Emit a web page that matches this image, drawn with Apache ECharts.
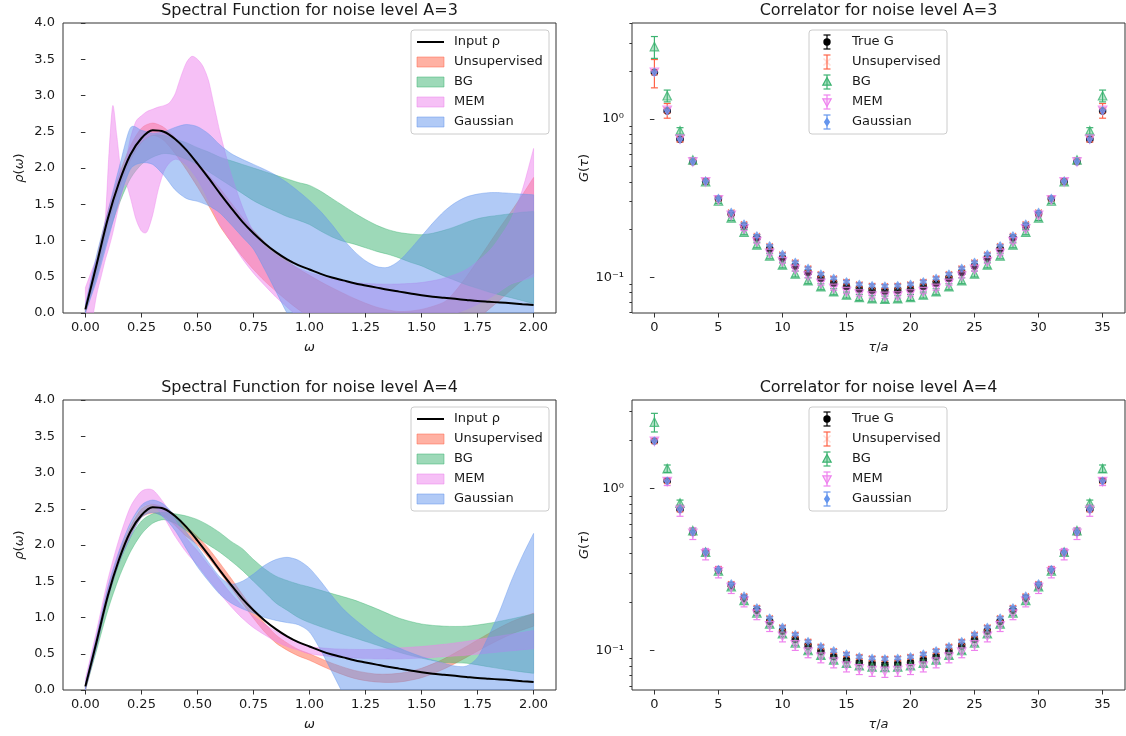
<!DOCTYPE html>
<html>
<head>
<meta charset="utf-8">
<script src="https://cdn.jsdelivr.net/npm/echarts@6/dist/echarts.min.js"></script>
<style>
  html, body { margin: 0; padding: 0; background: #ffffff; }
  #chart { width: 1126px; height: 736px; }
</style>
</head>
<body>
<div id="chart"></div>
<script>
// ---------------- data ----------------
const OMEGA_TICKS = [0, 0.25, 0.5, 0.75, 1.0, 1.25, 1.5, 1.75, 2.0];
const TAU_TICKS = [0, 5, 10, 15, 20, 25, 30, 35];
const LOG_MAJOR = [0.1, 1];
const LOG_MINOR = [0.06, 0.07, 0.08, 0.09, 0.2, 0.3, 0.4, 0.5, 0.6, 0.7, 0.8, 0.9, 2, 3, 4];

// input spectral function rho(omega)
const RHO_OMEGA = [0, 0.05, 0.1, 0.15, 0.2, 0.25, 0.3, 0.35, 0.4, 0.45, 0.5, 0.55, 0.6, 0.65, 0.7, 0.75, 0.8, 0.85, 0.9, 0.95,
  1.0, 1.05, 1.1, 1.15, 1.2, 1.25, 1.3, 1.35, 1.4, 1.45, 1.5, 1.55, 1.6, 1.65, 1.7, 1.75, 1.8, 1.85, 1.9, 1.95, 2.0];
const INPUT_RHO = [0.05, 0.67, 1.30, 1.80, 2.18, 2.41, 2.52, 2.50, 2.40, 2.25, 2.06, 1.86, 1.65, 1.45, 1.26, 1.10, 0.96, 0.84, 0.74, 0.66,
  0.60, 0.54, 0.49, 0.45, 0.41, 0.38, 0.35, 0.32, 0.295, 0.27, 0.245, 0.225, 0.21, 0.195, 0.18, 0.165, 0.155, 0.145, 0.135, 0.122, 0.11];

// reconstructed bands [omega, lower, upper], noise level A=3
const A3_UNSUP = [[0,0,0.1],[0.05,0.55,0.75],[0.1,1.2,1.4],[0.15,1.7,1.9],[0.2,2.1,2.3],[0.25,2.35,2.55],[0.3,2.45,2.62],[0.35,2.38,2.56],
  [0.4,2.2,2.42],[0.45,1.98,2.25],[0.5,1.74,2.08],[0.55,1.48,1.9],[0.6,1.2,1.72],[0.65,0.98,1.52],[0.7,0.78,1.32],[0.75,0.6,1.14],
  [0.8,0.44,0.98],[0.85,0.3,0.84],[0.9,0.17,0.72],[0.95,0.05,0.61],[1.0,-0.05,0.52],[1.05,-0.15,0.43],[1.1,-0.25,0.35],[1.2,-0.4,0.2],
  [1.3,-0.5,0.08],[1.4,-0.55,0.02],[1.5,-0.5,0.05],[1.6,-0.4,0.15],[1.65,-0.3,0.3],[1.7,-0.2,0.5],[1.75,-0.08,0.72],[1.8,0.05,0.95],
  [1.85,0.18,1.18],[1.9,0.32,1.4],[1.95,0.45,1.63],[2.0,0.55,1.87]];
const A3_BG = [[0,0,0.1],[0.05,0.5,0.7],[0.1,1.05,1.3],[0.15,1.5,1.8],[0.2,1.85,2.15],[0.25,2.05,2.35],[0.3,2.15,2.45],[0.35,2.2,2.45],
  [0.4,2.18,2.4],[0.45,2.12,2.35],[0.5,2.05,2.28],[0.55,1.95,2.22],[0.6,1.85,2.15],[0.65,1.75,2.1],[0.7,1.65,2.05],[0.75,1.55,2.0],
  [0.8,1.47,1.95],[0.85,1.4,1.9],[0.9,1.33,1.85],[0.95,1.28,1.8],[1.0,1.22,1.76],[1.05,1.13,1.68],[1.1,1.05,1.58],[1.15,0.99,1.48],
  [1.2,0.95,1.38],[1.25,0.9,1.29],[1.3,0.85,1.21],[1.35,0.81,1.15],[1.4,0.76,1.11],[1.45,0.7,1.09],[1.5,0.65,1.08],[1.55,0.58,1.1],
  [1.6,0.51,1.14],[1.65,0.45,1.19],[1.7,0.39,1.25],[1.75,0.34,1.3],[1.8,0.29,1.33],[1.85,0.25,1.35],[1.9,0.21,1.37],[1.95,0.17,1.39],[2.0,0.13,1.4]];
const A3_MEM = [[0,-0.5,0.35],[0.03,-0.1,0.6],[0.05,0.25,0.75],[0.07,0.5,0.88],[0.09,0.75,1.35],[0.105,0.9,2.2],[0.122,1.1,2.86],
  [0.14,1.35,2.45],[0.16,1.62,1.95],[0.18,1.78,2.1],[0.2,1.6,2.4],[0.225,1.3,2.64],[0.25,1.13,2.72],[0.275,1.12,2.78],[0.3,1.35,2.81],
  [0.325,1.7,2.84],[0.35,1.95,2.86],[0.375,2.07,2.9],[0.4,2.12,3.02],[0.425,2.1,3.25],[0.45,2.04,3.45],[0.475,1.95,3.54],[0.5,1.84,3.5],
  [0.525,1.7,3.4],[0.55,1.54,3.2],[0.575,1.38,2.85],[0.6,1.22,2.5],[0.625,1.1,2.2],[0.65,0.98,1.92],[0.7,0.75,1.47],[0.75,0.55,1.12],
  [0.8,0.38,0.92],[0.85,0.22,0.8],[0.9,0.08,0.7],[0.95,-0.05,0.62],[1.0,-0.15,0.56],[1.1,-0.25,0.47],[1.2,-0.25,0.42],[1.3,-0.2,0.4],
  [1.4,-0.15,0.4],[1.5,-0.1,0.42],[1.6,-0.05,0.48],[1.7,0.05,0.6],[1.8,0.2,0.85],[1.85,0.3,1.05],[1.9,0.4,1.3],[1.95,0.45,1.7],[2.0,0.5,2.27]];
const A3_GAUSS = [[0,0,0.12],[0.05,0.45,0.8],[0.1,1.0,1.4],[0.15,1.55,2.0],[0.2,1.98,2.55],[0.25,2.07,2.52],[0.3,2.05,2.48],[0.35,1.9,2.5],
  [0.4,1.7,2.56],[0.45,1.58,2.6],[0.5,1.54,2.57],[0.55,1.48,2.47],[0.6,1.38,2.32],[0.65,1.22,2.2],[0.7,1.05,2.12],[0.75,0.88,2.05],
  [0.8,0.6,1.98],[0.85,0.3,1.9],[0.9,0,1.8],[0.95,-0.2,1.68],[1.0,-0.35,1.55],[1.05,-0.45,1.4],[1.1,-0.5,1.22],[1.15,-0.55,1.02],
  [1.2,-0.6,0.85],[1.25,-0.6,0.72],[1.3,-0.6,0.64],[1.35,-0.6,0.63],[1.4,-0.6,0.72],[1.45,-0.6,0.88],[1.5,-0.55,1.06],[1.55,-0.5,1.24],
  [1.6,-0.45,1.4],[1.65,-0.4,1.52],[1.7,-0.35,1.6],[1.75,-0.3,1.64],[1.8,-0.25,1.66],[1.85,-0.2,1.66],[1.9,-0.15,1.65],[1.95,-0.1,1.64],[2.0,-0.05,1.63]];

// reconstructed bands [omega, lower, upper], noise level A=4
const A4_UNSUP = [[0,0,0.08],[0.05,0.6,0.72],[0.1,1.25,1.38],[0.15,1.75,1.88],[0.2,2.12,2.25],[0.25,2.38,2.5],[0.3,2.44,2.56],[0.35,2.4,2.52],
  [0.4,2.27,2.41],[0.45,2.12,2.26],[0.5,2.0,2.12],[0.55,1.82,1.95],[0.6,1.62,1.75],[0.65,1.41,1.54],[0.7,1.2,1.32],[0.75,0.99,1.11],
  [0.8,0.8,0.92],[0.85,0.65,0.76],[0.9,0.55,0.65],[0.95,0.47,0.56],[1.0,0.41,0.5],[1.1,0.27,0.37],[1.2,0.16,0.27],[1.3,0.11,0.22],
  [1.4,0.11,0.23],[1.5,0.17,0.3],[1.6,0.29,0.43],[1.7,0.45,0.6],[1.8,0.62,0.78],[1.9,0.77,0.94],[2.0,0.88,1.06]];
const A4_BG = [[0,0,0.08],[0.05,0.55,0.68],[0.1,1.1,1.28],[0.15,1.55,1.75],[0.2,1.9,2.1],[0.25,2.15,2.33],[0.3,2.3,2.43],[0.35,2.35,2.45],
  [0.4,2.3,2.43],[0.45,2.2,2.4],[0.5,2.1,2.35],[0.55,2.0,2.27],[0.6,1.9,2.17],[0.65,1.78,2.05],[0.7,1.65,1.95],[0.75,1.5,1.8],
  [0.8,1.35,1.67],[0.85,1.2,1.57],[0.9,1.1,1.51],[0.95,1.0,1.46],[1.0,0.93,1.42],[1.1,0.82,1.33],[1.2,0.72,1.24],[1.3,0.62,1.12],
  [1.4,0.52,0.99],[1.5,0.44,0.91],[1.6,0.38,0.88],[1.7,0.37,0.88],[1.8,0.32,0.92],[1.9,0.27,0.98],[2.0,0.23,1.05]];
const A4_MEM = [[0,0,0.15],[0.05,0.62,0.82],[0.1,1.32,1.52],[0.15,1.88,2.08],[0.2,2.3,2.52],[0.25,2.52,2.74],[0.3,2.56,2.76],[0.35,2.38,2.58],
  [0.4,2.12,2.34],[0.45,1.9,2.1],[0.5,1.72,1.92],[0.55,1.52,1.72],[0.6,1.33,1.52],[0.65,1.15,1.33],[0.7,0.99,1.16],[0.75,0.86,1.02],
  [0.8,0.76,0.91],[0.85,0.67,0.81],[0.9,0.6,0.73],[0.95,0.55,0.66],[1.0,0.5,0.6],[1.1,0.46,0.57],[1.2,0.44,0.56],[1.3,0.43,0.56],
  [1.4,0.43,0.58],[1.5,0.44,0.6],[1.6,0.46,0.63],[1.7,0.48,0.67],[1.8,0.51,0.72],[1.9,0.54,0.77],[2.0,0.57,0.82]];
const A4_GAUSS = [[0,0,0.1],[0.05,0.6,0.75],[0.1,1.25,1.42],[0.15,1.75,1.92],[0.2,2.1,2.3],[0.25,2.38,2.55],[0.3,2.45,2.62],[0.35,2.38,2.56],
  [0.4,2.2,2.4],[0.45,1.95,2.18],[0.5,1.7,1.98],[0.55,1.5,1.76],[0.6,1.32,1.56],[0.65,1.2,1.46],[0.7,1.12,1.5],[0.75,1.06,1.6],
  [0.8,1.0,1.72],[0.85,0.96,1.8],[0.9,0.93,1.83],[0.95,0.9,1.79],[1.0,0.8,1.68],[1.05,0.55,1.5],[1.1,0.25,1.3],[1.15,-0.05,1.12],
  [1.2,-0.3,0.98],[1.3,-0.5,0.74],[1.4,-0.6,0.58],[1.5,-0.6,0.46],[1.6,-0.55,0.37],[1.65,-0.5,0.33],[1.7,-0.45,0.33],[1.75,-0.4,0.45],
  [1.8,-0.35,0.75],[1.85,-0.3,1.1],[1.9,-0.25,1.5],[1.95,-0.2,1.85],[2.0,-0.15,2.16]];

// correlators G(tau), tau = 0..35
const TAU = [0,1,2,3,4,5,6,7,8,9,10,11,12,13,14,15,16,17,18,19,20,21,22,23,24,25,26,27,28,29,30,31,32,33,34,35];
const TRUE_G = [1.97,1.12,0.745,0.537,0.402,0.313,0.252,0.210,0.177,0.151,0.132,0.1175,0.107,0.0985,0.0919,0.0876,0.0843,0.0827,0.0820,
  0.0827,0.0843,0.0876,0.0919,0.0985,0.107,0.1175,0.132,0.151,0.177,0.210,0.252,0.313,0.402,0.537,0.745,1.12];
const TRUE_G_ERR = [0.03,0.015,0.008,0.006,0.005,0.004,0.0035,0.003,0.0028,0.0026,0.0025,0.0024,0.0023,0.0022,0.0022,0.0021,0.0021,0.0021,0.0021,
  0.0021,0.0021,0.0021,0.0022,0.0022,0.0023,0.0024,0.0025,0.0026,0.0028,0.003,0.0035,0.004,0.005,0.006,0.008,0.015];

const A3_G_UNSUP = [1.97,1.13,0.745,0.537,0.403,0.314,0.256,0.216,0.182,0.157,0.139,0.1238,0.1135,0.1045,0.0981,0.0934,0.0899,0.0882,0.0877,
  0.0882,0.0899,0.0934,0.0981,0.1045,0.1135,0.1238,0.139,0.157,0.182,0.216,0.256,0.314,0.403,0.537,0.745,1.13];
const A3_G_UNSUP_ERR = [0.40,0.12,0.03,0.012,0.008,0.006,0.005,0.004,0.0036,0.0032,0.003,0.0028,0.0026,0.0025,0.0024,0.0023,0.0023,0.0023,0.0023,
  0.0023,0.0023,0.0023,0.0024,0.0025,0.0026,0.0028,0.003,0.0032,0.0036,0.004,0.005,0.006,0.008,0.012,0.03,0.12];
const A3_G_BG = [2.86,1.40,0.84,0.55,0.402,0.303,0.237,0.193,0.160,0.1363,0.1196,0.1049,0.0952,0.0872,0.0811,0.0773,0.0747,0.0733,0.0728,
  0.0733,0.0747,0.0773,0.0811,0.0872,0.0952,0.1049,0.1196,0.1363,0.160,0.193,0.237,0.303,0.402,0.55,0.84,1.40];
const A3_G_BG_ERR = [0.45,0.12,0.04,0.02,0.014,0.011,0.009,0.0075,0.0065,0.0056,0.005,0.0045,0.0041,0.0038,0.0036,0.0034,0.0033,0.0033,0.0033,
  0.0033,0.0033,0.0034,0.0036,0.0038,0.0041,0.0045,0.005,0.0056,0.0065,0.0075,0.009,0.011,0.014,0.02,0.04,0.12];
const A3_G_MEM = [1.97,1.13,0.745,0.535,0.400,0.308,0.246,0.202,0.168,0.1417,0.1255,0.1123,0.1019,0.0916,0.0852,0.0811,0.0784,0.0762,0.0757,
  0.0762,0.0784,0.0811,0.0852,0.0916,0.1019,0.1123,0.1255,0.1417,0.168,0.202,0.246,0.308,0.400,0.535,0.745,1.13];
const A3_G_MEM_ERR = [0.04,0.025,0.016,0.012,0.009,0.007,0.0058,0.0048,0.0041,0.0036,0.0032,0.0029,0.0027,0.0025,0.0024,0.0023,0.0023,0.0022,0.0022,
  0.0022,0.0023,0.0023,0.0024,0.0025,0.0027,0.0029,0.0032,0.0036,0.0041,0.0048,0.0058,0.007,0.009,0.012,0.016,0.025];
const A3_G_GAUSS = [1.97,1.13,0.745,0.538,0.404,0.315,0.257,0.217,0.183,0.158,0.1397,0.1243,0.114,0.1049,0.0985,0.0938,0.0903,0.0886,0.0880,
  0.0886,0.0903,0.0938,0.0985,0.1049,0.114,0.1243,0.1397,0.158,0.183,0.217,0.257,0.315,0.404,0.538,0.745,1.13];
const A3_G_GAUSS_ERR = [0.03,0.018,0.011,0.008,0.006,0.005,0.004,0.0034,0.003,0.0027,0.0025,0.0023,0.0022,0.0021,0.002,0.002,0.002,0.002,0.002,
  0.002,0.002,0.002,0.002,0.0021,0.0022,0.0023,0.0025,0.0027,0.003,0.0034,0.004,0.005,0.006,0.008,0.011,0.018];

const A4_G_UNSUP = [1.97,1.115,0.745,0.538,0.403,0.316,0.257,0.216,0.183,0.158,0.1388,0.1250,0.1132,0.1054,0.0990,0.0946,0.0911,0.0893,0.0886,
  0.0893,0.0911,0.0946,0.0990,0.1054,0.1132,0.1250,0.1388,0.158,0.183,0.216,0.257,0.316,0.403,0.538,0.745,1.115];
const A4_G_UNSUP_ERR = [0.03,0.025,0.018,0.013,0.01,0.008,0.0065,0.0055,0.0047,0.0041,0.0036,0.0032,0.0029,0.0027,0.0025,0.0024,0.0023,0.0023,0.0023,
  0.0023,0.0023,0.0024,0.0025,0.0027,0.0029,0.0032,0.0036,0.0041,0.0047,0.0055,0.0065,0.008,0.01,0.013,0.018,0.025];
const A4_G_BG = [2.58,1.33,0.815,0.55,0.405,0.31,0.248,0.204,0.171,0.146,0.127,0.1116,0.100,0.0935,0.0875,0.0835,0.0806,0.0792,0.0785,
  0.0792,0.0806,0.0835,0.0875,0.0935,0.100,0.1116,0.127,0.146,0.171,0.204,0.248,0.31,0.405,0.55,0.815,1.33];
const A4_G_BG_ERR = [0.34,0.07,0.035,0.02,0.014,0.011,0.009,0.0075,0.0065,0.0056,0.005,0.0045,0.0041,0.0038,0.0036,0.0034,0.0033,0.0033,0.0033,
  0.0033,0.0033,0.0034,0.0036,0.0038,0.0041,0.0045,0.005,0.0056,0.0065,0.0075,0.009,0.011,0.014,0.02,0.035,0.07];
const A4_G_MEM = [1.96,1.105,0.735,0.53,0.395,0.306,0.245,0.202,0.168,0.142,0.1225,0.1084,0.0977,0.0909,0.0847,0.0800,0.0770,0.0752,0.0742,
  0.0752,0.0770,0.0800,0.0847,0.0909,0.0977,0.1084,0.1225,0.142,0.168,0.202,0.245,0.306,0.395,0.53,0.735,1.105];
const A4_G_MEM_ERR = [0.03,0.06,0.06,0.045,0.032,0.025,0.02,0.016,0.013,0.011,0.0095,0.0083,0.0075,0.007,0.0066,0.0063,0.006,0.006,0.006,
  0.006,0.006,0.0063,0.0066,0.007,0.0075,0.0083,0.0095,0.011,0.013,0.016,0.02,0.025,0.032,0.045,0.06,0.06];
const A4_G_GAUSS = [1.97,1.115,0.745,0.539,0.404,0.317,0.258,0.217,0.184,0.159,0.1394,0.1256,0.1137,0.1059,0.0995,0.0950,0.0915,0.0897,0.0890,
  0.0897,0.0915,0.0950,0.0995,0.1059,0.1137,0.1256,0.1394,0.159,0.184,0.217,0.258,0.317,0.404,0.539,0.745,1.115];
const A4_G_GAUSS_ERR = A3_G_GAUSS_ERR;

// ---------------- styling ----------------
const FONT = 'DejaVu Sans';
const TXT = '#1a1a1a';
const AX = '#333333';
const C_UNSUP = '#ff6347', C_BG = '#3cb371', C_MEM = '#ee82ee', C_GAUSS = '#6495ed';

function rgba(hex, a) {
  const n = parseInt(hex.slice(1), 16);
  return 'rgba(' + (n >> 16 & 255) + ',' + (n >> 8 & 255) + ',' + (n & 255) + ',' + a + ')';
}

const GRID_BOX = [
  { left: 63, top: 23, width: 493, height: 290 },
  { left: 632, top: 23, width: 493, height: 290 },
  { left: 63, top: 400, width: 493, height: 290 },
  { left: 632, top: 400, width: 493, height: 290 }
];

const tick = (extra) => Object.assign({ show: true, length: 4.5, inside: false, lineStyle: { color: AX, width: 1 } }, extra || {});
const lbl = (extra) => Object.assign({ fontFamily: FONT, fontSize: 13, color: TXT, margin: 8 }, extra || {});
const nameStyle = { fontFamily: FONT, fontSize: 13, color: TXT,
  rich: { i: { fontFamily: FONT, fontSize: 13, fontStyle: 'italic', color: TXT } } };

function omegaAxis(gi) {
  return { type: 'value', gridIndex: gi, min: -0.1, max: 2.1,
    axisLine: { show: false }, splitLine: { show: false },
    axisTick: tick({ customValues: OMEGA_TICKS }),
    axisLabel: lbl({ customValues: OMEGA_TICKS, formatter: v => v.toFixed(2) }),
    name: '{i|ω}', nameLocation: 'middle', nameGap: 28, nameTextStyle: nameStyle };
}
function tauAxis(gi) {
  return { type: 'value', gridIndex: gi, min: -1.75, max: 36.75,
    axisLine: { show: false }, splitLine: { show: false },
    axisTick: tick({ customValues: TAU_TICKS }),
    axisLabel: lbl({ customValues: TAU_TICKS, formatter: v => String(Math.round(v)) }),
    name: '{i|τ}/{i|a}', nameLocation: 'middle', nameGap: 28, nameTextStyle: nameStyle };
}
function rhoAxis(gi) {
  return { type: 'value', gridIndex: gi, min: 0, max: 4, interval: 0.5,
    axisLine: { show: false }, splitLine: { show: false },
    axisTick: tick(), axisLabel: lbl({ formatter: v => v.toFixed(1) }),
    name: '{i|ρ}({i|ω})', nameLocation: 'middle', nameGap: 37, nameTextStyle: nameStyle };
}
function corrAxes(gi, lo, hi) {
  return [
    { type: 'log', logBase: 10, gridIndex: gi, min: lo, max: hi,
      axisLine: { show: false }, splitLine: { show: false },
      axisTick: tick({ customValues: LOG_MAJOR }),
      axisLabel: lbl({ customValues: LOG_MAJOR, formatter: v => (v > 0.5 ? '10⁰' : '10⁻¹') }),
      name: '{i|G}({i|τ})', nameLocation: 'middle', nameGap: 35, nameTextStyle: nameStyle },
    { type: 'log', logBase: 10, gridIndex: gi, min: lo, max: hi, position: 'left',
      axisLine: { show: false }, splitLine: { show: false }, axisLabel: { show: false },
      axisTick: tick({ length: 2.6, customValues: LOG_MINOR }) }
  ];
}

// ---------------- series builders ----------------
// Smooth path through pixel points (Catmull-Rom converted to cubic Bezier segments).
function curveThrough(pts, startCmd) {
  let d = startCmd + pts[0][0].toFixed(2) + ',' + pts[0][1].toFixed(2);
  const t = 0.8;
  for (let i = 0; i < pts.length - 1; i++) {
    const p0 = pts[Math.max(i - 1, 0)], p1 = pts[i], p2 = pts[i + 1], p3 = pts[Math.min(i + 2, pts.length - 1)];
    const c1 = [p1[0] + (p2[0] - p0[0]) * t / 6, p1[1] + (p2[1] - p0[1]) * t / 6];
    const c2 = [p2[0] - (p3[0] - p1[0]) * t / 6, p2[1] - (p3[1] - p1[1]) * t / 6];
    d += ' C' + c1[0].toFixed(2) + ',' + c1[1].toFixed(2) + ' ' + c2[0].toFixed(2) + ',' + c2[1].toFixed(2) + ' ' + p2[0].toFixed(2) + ',' + p2[1].toFixed(2);
  }
  return d;
}
// Shaded band between lower and upper bounds, drawn as one filled region.
function band(rows, color, xi, yi) {
  return { type: 'custom', xAxisIndex: xi, yAxisIndex: yi, clip: true, silent: true,
    encode: { x: 0, y: [1, 2] }, data: rows,
    renderItem: (params, api) => {
      if (params.dataIndex !== 0) return null;
      const up = rows.map(r => api.coord([r[0], r[2]]));
      const lo = rows.map(r => api.coord([r[0], r[1]])).reverse();
      const d = curveThrough(up, 'M') + ' ' + curveThrough(lo, 'L') + ' Z';
      return { type: 'path', shape: { pathData: d },
        style: { fill: color, stroke: color, lineWidth: 0.8, opacity: 0.5 } };
    } };
}
function inputLine(xi, yi) {
  return { type: 'line', xAxisIndex: xi, yAxisIndex: yi, smooth: 0.3, symbol: 'none', silent: true,
    lineStyle: { color: '#000', width: 2 }, z: 5, data: RHO_OMEGA.map((w, i) => [w, INPUT_RHO[i]]) };
}
function errorBars(vals, errs, color, xi, yi) {
  return { type: 'custom', xAxisIndex: xi, yAxisIndex: yi, silent: true, clip: true,
    encode: { x: 0, y: [1, 2] },
    data: vals.map((v, i) => [TAU[i], v - errs[i], v + errs[i]]),
    renderItem: (params, api) => {
      const x = api.value(0);
      const a = api.coord([x, api.value(1)]);
      const b = api.coord([x, api.value(2)]);
      const cw = 3.5, st = { stroke: color, lineWidth: 1.2 };
      return { type: 'group', children: [
        { type: 'line', shape: { x1: a[0], y1: a[1], x2: b[0], y2: b[1] }, style: st },
        { type: 'line', shape: { x1: a[0] - cw, y1: a[1], x2: a[0] + cw, y2: a[1] }, style: st },
        { type: 'line', shape: { x1: b[0] - cw, y1: b[1], x2: b[0] + cw, y2: b[1] }, style: st }
      ] };
    } };
}
const X_PATH = 'path://M0,1 L1,0 L5,4 L9,0 L10,1 L6,5 L10,9 L9,10 L5,6 L1,10 L0,9 L4,5 Z';
function markers(vals, kind, xi, yi) {
  const s = { type: 'scatter', xAxisIndex: xi, yAxisIndex: yi, silent: true,
    data: vals.map((v, i) => [TAU[i], v]) };
  if (kind === 'true') { s.symbol = 'circle'; s.symbolSize = 7.5; s.itemStyle = { color: '#000' }; }
  if (kind === 'unsup') { s.symbol = X_PATH; s.symbolSize = 7; s.itemStyle = { color: C_UNSUP, opacity: 0.9 }; }
  if (kind === 'bg') { s.symbol = 'triangle'; s.symbolSize = 8.5; s.itemStyle = { color: rgba(C_BG, 0.45), borderColor: C_BG, borderWidth: 1.2 }; }
  if (kind === 'mem') { s.symbol = 'triangle'; s.symbolRotate = 180; s.symbolSize = 8.5; s.itemStyle = { color: rgba(C_MEM, 0.3), borderColor: C_MEM, borderWidth: 1.2 }; }
  if (kind === 'gauss') { s.symbol = 'diamond'; s.symbolSize = [6.5, 9.5]; s.itemStyle = { color: C_GAUSS }; }
  return s;
}
function corrSet(sets, xi, yi) {
  const out = [];
  sets.forEach(s => { out.push(errorBars(s[0], s[1], s[2], xi, yi)); out.push(markers(s[0], s[3], xi, yi)); });
  return out;
}

// ---------------- titles & legends ----------------
function title(text, cx, cy) {
  return { type: 'text', x: cx, y: cy, z: 100,
    style: { text: text, fontFamily: FONT, fontSize: 16, fill: TXT, align: 'center', verticalAlign: 'middle',
      textAlign: 'center', textVerticalAlign: 'middle' } };
}
function legendText(text, x, y) {
  return { type: 'text', x: x, y: y, z: 101,
    style: { text: text, fontFamily: FONT, fontSize: 13, fill: TXT, align: 'left', verticalAlign: 'middle',
      textAlign: 'left', textVerticalAlign: 'middle' } };
}
function legendBox(x0, y0) {
  return { type: 'rect', z: 100, shape: { x: x0, y: y0, width: 138, height: 104, r: 3 },
    style: { fill: 'rgba(255,255,255,0.8)', stroke: '#cccccc', lineWidth: 1 } };
}
function spectralLegend(x0, y0) {
  const els = [legendBox(x0, y0)];
  const rowY = i => y0 + 12 + 20 * i;
  els.push({ type: 'line', z: 101, shape: { x1: x0 + 6, y1: rowY(0), x2: x0 + 33, y2: rowY(0) }, style: { stroke: '#000', lineWidth: 2 } });
  els.push(legendText('Input ρ', x0 + 43, rowY(0)));
  [['Unsupervised', C_UNSUP], ['BG', C_BG], ['MEM', C_MEM], ['Gaussian', C_GAUSS]].forEach((e, k) => {
    const y = rowY(k + 1);
    els.push({ type: 'rect', z: 101, shape: { x: x0 + 6, y: y - 5, width: 27, height: 10 },
      style: { fill: rgba(e[1], 0.5), stroke: rgba(e[1], 0.5), lineWidth: 1 } });
    els.push(legendText(e[0], x0 + 43, y));
  });
  return els;
}
function corrLegend(x0, y0) {
  const els = [legendBox(x0, y0)];
  const mx = x0 + 18;
  const entries = [['True G', '#000', 'true'], ['Unsupervised', C_UNSUP, 'unsup'], ['BG', C_BG, 'bg'], ['MEM', C_MEM, 'mem'], ['Gaussian', C_GAUSS, 'gauss']];
  entries.forEach((e, k) => {
    const y = y0 + 12 + 20 * k, c = e[1], st = { stroke: c, lineWidth: 1.2 };
    els.push({ type: 'line', z: 101, shape: { x1: mx, y1: y - 7, x2: mx, y2: y + 7 }, style: st });
    els.push({ type: 'line', z: 101, shape: { x1: mx - 3.5, y1: y - 7, x2: mx + 3.5, y2: y - 7 }, style: st });
    els.push({ type: 'line', z: 101, shape: { x1: mx - 3.5, y1: y + 7, x2: mx + 3.5, y2: y + 7 }, style: st });
    let m;
    if (e[2] === 'true') m = { type: 'circle', shape: { cx: mx, cy: y, r: 3.7 }, style: { fill: '#000' } };
    if (e[2] === 'unsup') m = { type: 'group', children: [
      { type: 'line', shape: { x1: mx - 3.5, y1: y - 3.5, x2: mx + 3.5, y2: y + 3.5 }, style: { stroke: c, lineWidth: 1.6 } },
      { type: 'line', shape: { x1: mx - 3.5, y1: y + 3.5, x2: mx + 3.5, y2: y - 3.5 }, style: { stroke: c, lineWidth: 1.6 } }] };
    if (e[2] === 'bg') m = { type: 'polygon', shape: { points: [[mx, y - 4.5], [mx + 4.2, y + 3.2], [mx - 4.2, y + 3.2]] }, style: { fill: rgba(C_BG, 0.45), stroke: c, lineWidth: 1.2 } };
    if (e[2] === 'mem') m = { type: 'polygon', shape: { points: [[mx, y + 4.5], [mx + 4.2, y - 3.2], [mx - 4.2, y - 3.2]] }, style: { fill: rgba(C_MEM, 0.3), stroke: c, lineWidth: 1.2 } };
    if (e[2] === 'gauss') m = { type: 'polygon', shape: { points: [[mx, y - 4.7], [mx + 3.2, y], [mx, y + 4.7], [mx - 3.2, y]] }, style: { fill: c } };
    m.z = 102;
    els.push(m);
    els.push(legendText(e[0], x0 + 43, y));
  });
  return els;
}

// ---------------- option ----------------
const series = [].concat(
  [band(A3_UNSUP, C_UNSUP, 0, 0), band(A3_BG, C_BG, 0, 0), band(A3_MEM, C_MEM, 0, 0), band(A3_GAUSS, C_GAUSS, 0, 0), inputLine(0, 0)],
  [band(A4_UNSUP, C_UNSUP, 2, 3), band(A4_BG, C_BG, 2, 3), band(A4_MEM, C_MEM, 2, 3), band(A4_GAUSS, C_GAUSS, 2, 3), inputLine(2, 3)],
  corrSet([[TRUE_G, TRUE_G_ERR, '#000', 'true'], [A3_G_UNSUP, A3_G_UNSUP_ERR, C_UNSUP, 'unsup'],
    [A3_G_BG, A3_G_BG_ERR, C_BG, 'bg'], [A3_G_MEM, A3_G_MEM_ERR, C_MEM, 'mem'],
    [A3_G_GAUSS, A3_G_GAUSS_ERR, C_GAUSS, 'gauss']], 1, 1),
  corrSet([[TRUE_G, TRUE_G_ERR, '#000', 'true'], [A4_G_UNSUP, A4_G_UNSUP_ERR, C_UNSUP, 'unsup'],
    [A4_G_BG, A4_G_BG_ERR, C_BG, 'bg'], [A4_G_MEM, A4_G_MEM_ERR, C_MEM, 'mem'],
    [A4_G_GAUSS, A4_G_GAUSS_ERR, C_GAUSS, 'gauss']], 3, 4)
);

const option = {
  animation: false,
  backgroundColor: '#ffffff',
  textStyle: { fontFamily: FONT },
  grid: GRID_BOX.map(g => Object.assign({ show: true, borderColor: AX, borderWidth: 1, backgroundColor: 'transparent', containLabel: false }, g)),
  xAxis: [omegaAxis(0), tauAxis(1), omegaAxis(2), tauAxis(3)],
  yAxis: [rhoAxis(0)].concat(corrAxes(1, 0.0595, 4.03), [rhoAxis(2)], corrAxes(3, 0.0570, 3.53)),
  series: series,
  graphic: { elements: [].concat(
    [title('Spectral Function for noise level A=3', 309.5, 11), title('Correlator for noise level A=3', 878.5, 11),
     title('Spectral Function for noise level A=4', 309.5, 388), title('Correlator for noise level A=4', 878.5, 388)],
    spectralLegend(411, 30), corrLegend(809, 30), spectralLegend(411, 407), corrLegend(809, 407)
  ) }
};

const chart = echarts.init(document.getElementById('chart'));
chart.setOption(option);
</script>
</body>
</html>
